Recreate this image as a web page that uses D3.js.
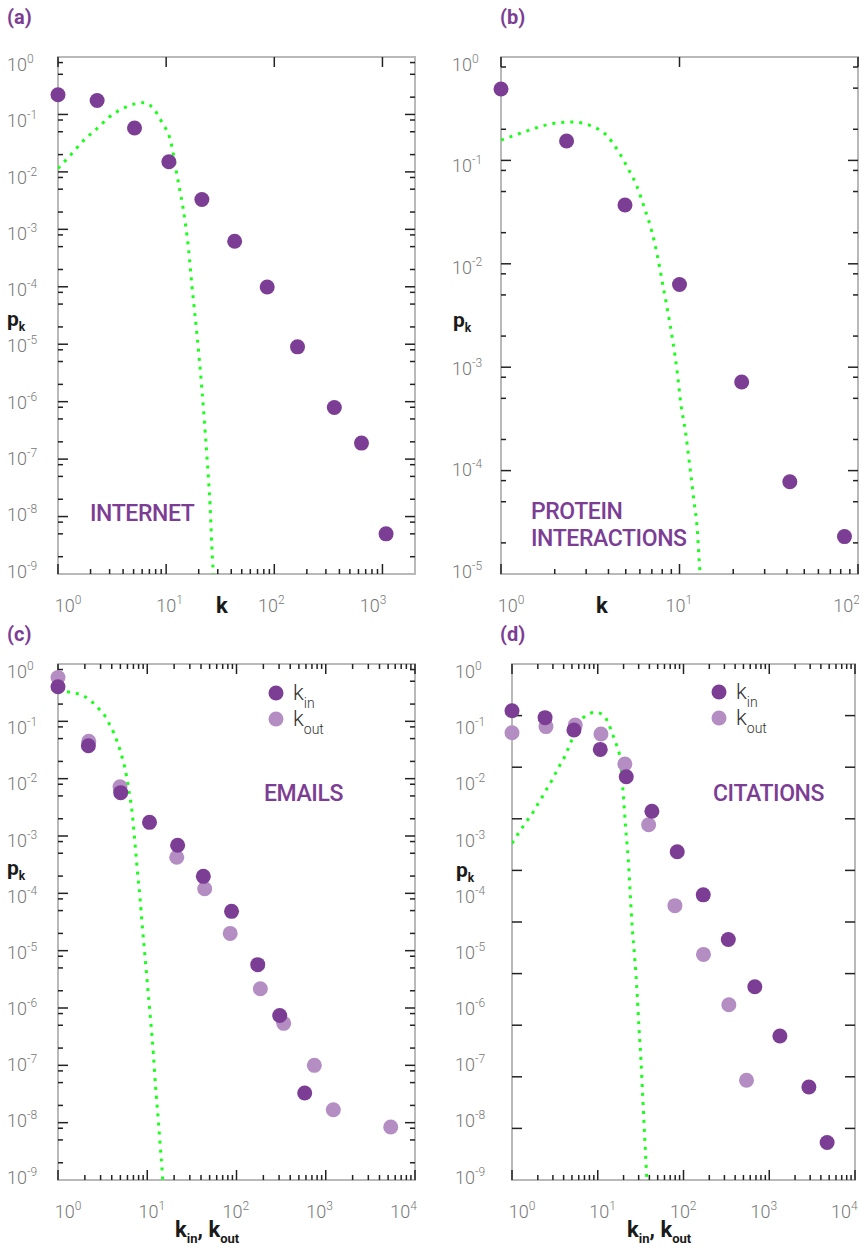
<!DOCTYPE html>
<html><head><meta charset="utf-8">
<script src="https://cdn.jsdelivr.net/npm/d3@7"></script>
<style>body{margin:0;background:#fff;} svg{display:block;}</style>
</head><body><svg id="c" width="859" height="1249"></svg>
<script>
// ---------- DATA ----------
// (a) Internet
const A_k = [1, 2.3, 5.1, 10.6, 21.4, 43, 86, 164, 359, 640, 1080];
const A_p = [0.22, 0.175, 0.058, 0.015, 3.3e-3, 6.2e-4, 9.9e-5, 9.0e-6, 7.9e-7, 1.9e-7, 5.0e-9];
const A_fit_k = [1, 1.3, 1.7, 2.3, 3, 4.3, 6.3, 7.6, 9.2, 11, 12.6, 15, 16.1, 17.3, 19.2, 21.4, 23.8, 25.5, 26.8, 27.4];
const A_fit_p = [0.0115, 0.0195, 0.0343, 0.057, 0.091, 0.136, 0.16, 0.127, 0.0715, 0.0343, 0.00875, 1.34e-3, 4.6e-4, 1.05e-4, 1.6e-5, 1.66e-6, 1.14e-7, 1.5e-8, 1.8e-9, 9.5e-10];
// (b) Protein interactions
const B_k = [1, 2.33, 4.95, 10, 22.3, 41.5, 84];
const B_p = [0.49, 0.154, 0.037, 6.3e-3, 7.2e-4, 7.8e-5, 2.3e-5];
const B_fit_k = [1, 1.25, 1.58, 2.0, 2.54, 3.21, 3.89, 4.56, 5.14, 5.73, 6.37, 7.0, 7.5, 8.07, 8.6, 9.18, 9.7, 10.2, 10.8, 11.4, 12.0, 12.6, 12.9, 13.05];
const B_fit_p = [0.157, 0.18, 0.207, 0.229, 0.235, 0.215, 0.176, 0.121, 0.0838, 0.0578, 0.0344, 0.0205, 0.0122, 6.24e-3, 3.44e-3, 1.77e-3, 9.1e-4, 4.3e-4, 2.38e-4, 1.13e-4, 5.4e-5, 2.57e-5, 1.32e-5, 1.0e-5];
// (c) Emails
const C_in_k = [1, 2.19, 5.04, 10.6, 21.9, 42.5, 88, 173, 305, 581];
const C_in_p = [0.40, 0.0376, 5.7e-3, 1.73e-3, 6.9e-4, 1.98e-4, 4.85e-5, 5.7e-6, 7.4e-7, 3.3e-8];
const C_out_k = [1, 2.21, 4.95, 21.4, 44, 85, 185, 338, 745, 1216, 5345];
const C_out_p = [0.58, 0.045, 7.2e-3, 4.25e-4, 1.2e-4, 2.0e-5, 2.17e-6, 5.4e-7, 1.0e-7, 1.68e-8, 8.4e-9];
const C_fit_k = [1, 1.25, 1.58, 2.01, 2.43, 2.88, 3.36, 3.76, 4.2, 4.58, 4.95, 5.3, 5.63, 6.14, 6.8, 7.29, 7.74, 8.3, 8.81, 9.44, 10.1, 10.9, 11.7, 12.4, 13.3, 14.0, 14.8, 14.9];
const C_fit_p = [0.34, 0.329, 0.308, 0.269, 0.215, 0.164, 0.124, 0.0897, 0.0634, 0.0449, 0.0316, 0.0218, 0.0151, 7.2e-3, 2.42e-3, 7.4e-4, 2.55e-4, 8.2e-5, 2.62e-5, 7.9e-6, 2.35e-6, 6.2e-7, 1.62e-7, 4.2e-8, 1.11e-8, 3.8e-9, 1.2e-9, 1.0e-9];
// (d) Citations
const D_in_k = [1, 2.43, 5.28, 10.7, 21.5, 42.8, 84.5, 170, 333, 679, 1331, 2900, 4730];
const D_in_p = [0.153, 0.116, 0.0706, 0.0324, 0.0108, 2.7e-3, 5.3e-4, 9.4e-5, 1.57e-5, 2.35e-6, 3.24e-7, 4.2e-8, 4.5e-9];
const D_out_k = [1, 2.49, 5.47, 10.9, 20.7, 39.2, 79.4, 171, 338, 543];
const D_out_p = [0.0634, 0.081, 0.086, 0.060, 0.018, 1.57e-3, 6.1e-5, 8.6e-6, 1.14e-6, 5.5e-8];
const D_fit_k = [1, 1.3, 1.52, 1.73, 1.97, 2.26, 2.54, 2.9, 3.26, 3.66, 4.15, 4.61, 5.18, 5.93, 7.42, 9.45, 11.6, 13.3, 14.5, 16.3, 18.2, 19.8, 21.1, 22.7, 23.9, 25.2, 27.1, 28.8, 30.2, 31.9, 33.3, 34.8, 36.4, 37.4];
const D_fit_p = [7.45e-4, 1.36e-3, 1.9e-3, 2.48e-3, 3.48e-3, 4.85e-3, 6.6e-3, 9.2e-3, 0.0129, 0.0178, 0.0248, 0.0361, 0.054, 0.0863, 0.129, 0.1435, 0.129, 0.0923, 0.066, 0.0413, 0.0226, 5.56e-3, 1.45e-3, 3.81e-4, 1e-4, 2.62e-5, 6.87e-6, 1.8e-6, 4.72e-7, 1.24e-7, 3.25e-8, 8.5e-9, 2.23e-9, 1e-9];

// tick label exponents
const xExpA = [0, 1, 2, 3];
const xExpB = [0, 1, 2];
const xExpCD = [0, 1, 2, 3, 4];
const yExp9 = [0, -1, -2, -3, -4, -5, -6, -7, -8, -9];
const yExp5 = [0, -1, -2, -3, -4, -5];

const panelNames = {a: ["INTERNET"], b: ["PROTEIN", "INTERACTIONS"], c: ["EMAILS"], d: ["CITATIONS"]};
const legendLabels = [["k", "in"], ["k", "out"]];

// ---------- STYLE ----------
const DARK = "#7c3d94", LIGHT = "#b48dc3", GREEN = "#19ff19";
const FRAME = "#b9b9b9", TICK = "#222", LABEL = "#777";
const FONT = "Roboto, 'DejaVu Sans', sans-serif";

const svg = d3.select("#c");
svg.append("rect").attr("width", 859).attr("height", 1249).attr("fill", "#fff");

function zip(a, b) { return a.map((v, i) => [v, b[i]]); }

function panel(cfg) {
  const g = svg.append("g");
  const x = d3.scaleLog().domain(cfg.xDomain).range([cfg.left, cfg.right]);
  const y = d3.scaleLog().domain(cfg.yDomain).range([cfg.bottom, cfg.top]);
  const H = cfg.bottom - cfg.top;
  const clipId = "clip" + cfg.id;
  svg.append("clipPath").attr("id", clipId).append("rect")
    .attr("x", cfg.left).attr("y", cfg.top)
    .attr("width", cfg.right - cfg.left).attr("height", H);

  // frame
  g.append("rect").attr("x", cfg.left).attr("y", cfg.top)
    .attr("width", cfg.right - cfg.left).attr("height", H)
    .attr("fill", "none").attr("stroke", FRAME).attr("stroke-width", 2);

  const ticks = g.append("g").attr("stroke", TICK).attr("stroke-width", 1.5);
  const [x0, x1] = cfg.xDomain;
  const dMin = Math.ceil(Math.log10(x0) - 1e-9), dMax = Math.floor(Math.log10(x1) + 1e-9);
  const xMaj = d3.range(dMin, dMax + 1).map(d => Math.pow(10, d));
  const xMin = [];
  d3.range(dMin, dMax + 1).forEach(d => d3.range(2, 10).forEach(m => {
    const v = m * Math.pow(10, d); if (v > x0 && v < x1) xMin.push(v);
  }));
  const vline = (v, len, top) => {
    const xx = x(v);
    if (top) ticks.append("line").attr("x1", xx).attr("x2", xx).attr("y1", cfg.top).attr("y2", cfg.top + len);
    else ticks.append("line").attr("x1", xx).attr("x2", xx).attr("y1", cfg.bottom).attr("y2", cfg.bottom - len);
  };
  xMaj.forEach(v => { vline(v, 10, true); vline(v, 10, false); });
  xMin.forEach(v => { vline(v, 5, false); if (cfg.topMinor) vline(v, 5, true); });

  const hline = (v, len) => {
    const yy = y(v);
    ticks.append("line").attr("x1", cfg.left).attr("x2", cfg.left + len).attr("y1", yy).attr("y2", yy);
    ticks.append("line").attr("x1", cfg.right).attr("x2", cfg.right - len).attr("y1", yy).attr("y2", yy);
  };
  const [y0] = cfg.yDomain;
  const nDec = Math.round(-Math.log10(y0));
  if (cfg.yEven) {
    d3.range(1, 10).forEach(i => hline(Math.pow(10, -nDec * i / 10), 10));
  } else {
    d3.range(1, nDec).forEach(i => hline(Math.pow(10, -i), 10));
    d3.range(1, nDec + 1).forEach(i => [8, 5, 2].forEach(m => hline(m * Math.pow(10, -i), 5)));
  }

  // tick labels
  const decY = H / nDec, decX = x(10) - x(1);
  cfg.yExp.forEach((e, i) => {
    const t = g.append("text").attr("x", cfg.yLabelX).attr("y", cfg.top + 14 + i * decY * 0.98)
      .attr("font-family", FONT).attr("font-weight", 300).attr("font-size", 18).attr("fill", LABEL);
    t.append("tspan").text("10");
    t.append("tspan").attr("dy", -8).attr("font-size", 12).text(e === 0 ? "0" : "-" + (-e));
  });
  cfg.xExp.forEach((e, i) => {
    const t = g.append("text").attr("x", cfg.left + 10 + i * decX * 0.94).attr("y", cfg.bottom + 38)
      .attr("text-anchor", "middle")
      .attr("font-family", FONT).attr("font-weight", 300).attr("font-size", 18).attr("fill", LABEL);
    t.append("tspan").text("10");
    t.append("tspan").attr("dy", -8).attr("font-size", 12).text(String(e));
  });

  // axis titles
  const pk = g.append("text").attr("x", cfg.pkX).attr("y", cfg.pkY)
    .attr("font-family", FONT).attr("font-weight", 700).attr("font-size", 21).attr("fill", "#1a1a1a");
  pk.append("tspan").text("p");
  pk.append("tspan").attr("dy", 5).attr("font-size", 12).text("k");
  const kt = g.append("text").attr("x", cfg.kX).attr("y", cfg.kY)
    .attr("text-anchor", cfg.kInOut ? "start" : "middle")
    .attr("font-family", FONT).attr("font-weight", 700).attr("font-size", 22).attr("fill", "#1a1a1a");
  if (cfg.kInOut) {
    kt.append("tspan").text("k");
    kt.append("tspan").attr("dy", 6).attr("font-size", 13).text("in");
    kt.append("tspan").attr("dy", -6).text(", k");
    kt.append("tspan").attr("dy", 6).attr("font-size", 13).text("out");
  } else {
    kt.text("k");
  }

  // panel letter
  g.append("text").attr("x", cfg.letterX).attr("y", cfg.letterY)
    .attr("font-family", FONT).attr("font-weight", 700).attr("font-size", 20).attr("fill", DARK)
    .text("(" + cfg.id + ")");

  // panel name
  cfg.name.forEach((s, i) => {
    g.append("text").attr("x", cfg.nameX).attr("y", cfg.nameY + i * 27)
      .attr("font-family", FONT).attr("font-weight", 500).attr("font-size", 23)
      .attr("letter-spacing", -0.4).attr("fill", DARK).text(s);
  });

  // fit curve
  const line = d3.line().x(d => x(d[0])).y(d => y(d[1])).curve(d3.curveMonotoneX);
  g.append("path").attr("clip-path", "url(#" + clipId + ")")
    .attr("d", line(cfg.fit)).attr("fill", "none").attr("stroke", GREEN)
    .attr("stroke-width", 3).attr("stroke-dasharray", "3,6");

  // points
  cfg.series.forEach(s => {
    g.append("g").selectAll("circle").data(s.data).join("circle")
      .attr("cx", d => x(d[0])).attr("cy", d => y(d[1])).attr("r", 7.5).attr("fill", s.color);
  });

  // legend
  if (cfg.legend) {
    [DARK, LIGHT].forEach((c, i) => {
      const ly = cfg.legend.y + i * 26;
      g.append("circle").attr("cx", cfg.legend.x).attr("cy", ly).attr("r", 7.5).attr("fill", c);
      const t = g.append("text").attr("x", cfg.legend.x + 17).attr("y", ly + 7)
        .attr("font-family", FONT).attr("font-weight", 300).attr("font-size", 22).attr("fill", "#333");
      t.append("tspan").text(legendLabels[i][0]);
      t.append("tspan").attr("dy", 8).attr("font-size", 14).text(legendLabels[i][1]);
    });
  }
}

panel({id: "a", left: 58, right: 415, top: 57, bottom: 574, xDomain: [1, 2000], yDomain: [1e-9, 1],
  xExp: xExpA, yExp: yExp9, yLabelX: 7, pkX: 7, pkY: 326, kX: 222, kY: 613, kInOut: false,
  letterX: 7, letterY: 24, name: panelNames.a, nameX: 90, nameY: 521, topMinor: false,
  fit: zip(A_fit_k, A_fit_p), series: [{color: DARK, data: zip(A_k, A_p)}]});

panel({id: "b", left: 501, right: 858, top: 57, bottom: 574, xDomain: [1, 100], yDomain: [1e-5, 1],
  xExp: xExpB, yExp: yExp5, yLabelX: 452, pkX: 453, pkY: 327, kX: 602, kY: 613, kInOut: false,
  letterX: 500, letterY: 24, name: panelNames.b, nameX: 531, nameY: 519, topMinor: false,
  fit: zip(B_fit_k, B_fit_p), series: [{color: DARK, data: zip(B_k, B_p)}]});

panel({id: "c", left: 58, right: 415, top: 664, bottom: 1180, xDomain: [1, 1e4], yDomain: [1e-9, 1],
  xExp: xExpCD, yExp: yExp9, yLabelX: 7, pkX: 7, pkY: 875, kX: 175, kY: 1237, kInOut: true,
  letterX: 7, letterY: 641, name: panelNames.c, nameX: 264, nameY: 801, topMinor: true,
  legend: {x: 276, y: 693},
  fit: zip(C_fit_k, C_fit_p),
  series: [{color: LIGHT, data: zip(C_out_k, C_out_p)}, {color: DARK, data: zip(C_in_k, C_in_p)}]});

panel({id: "d", left: 512, right: 855, top: 664, bottom: 1180, xDomain: [1, 1e4], yDomain: [1e-9, 1],
  xExp: xExpCD, yExp: yExp9, yLabelX: 455, pkX: 456, pkY: 877, kX: 627, kY: 1237, kInOut: true,
  letterX: 500, letterY: 641, name: panelNames.d, nameX: 713, nameY: 801, topMinor: true, yEven: true,
  legend: {x: 719, y: 692},
  fit: zip(D_fit_k, D_fit_p),
  series: [{color: LIGHT, data: zip(D_out_k, D_out_p)}, {color: DARK, data: zip(D_in_k, D_in_p)}]});
</script>
</body></html>
